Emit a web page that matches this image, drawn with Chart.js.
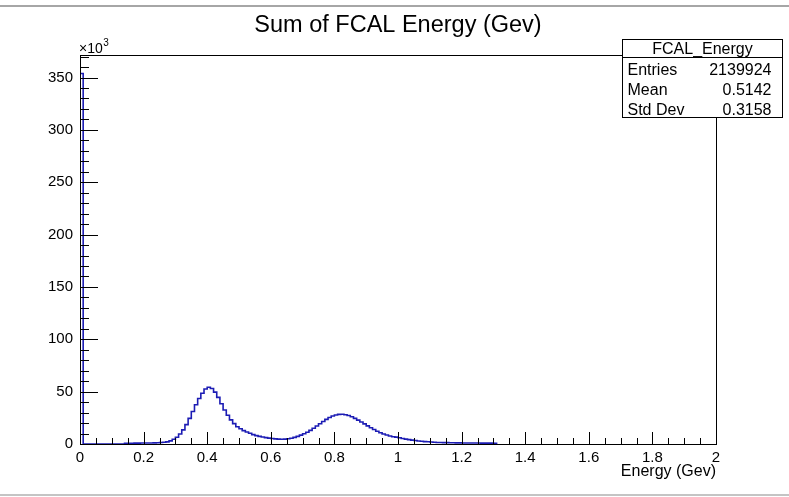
<!DOCTYPE html>
<html>
<head>
<meta charset="utf-8">
<title>Sum of FCAL Energy</title>
<script src="https://cdn.jsdelivr.net/npm/chart.js@4.4.1/dist/chart.umd.min.js"></script>
<style>
  html, body { margin: 0; padding: 0; background: #fff; }
  #wrap { width: 789px; height: 497px; }
</style>
</head>
<body>
<div id="wrap"><canvas id="fcal" width="789" height="497"></canvas></div>
<script>
// FCAL_Energy histogram, 0.01 GeV bins starting at 0
const binLow = 0;
const binWidth = 0.01;
const counts = [
  353800,
  0, 0, 0, 0, 0, 0, 0, 0, 0, 0, 0, 0, 0,
  600, 700, 700, 800, 800, 900, 900, 1000, 1000, 1100, 1200, 1400, 1600,
  2000, 3000, 4500, 6500, 9500, 13500, 18500, 24500, 31000, 37500,
  43500, 48500, 52500, 54200, 53000, 49500, 44500, 38500, 32500, 27500,
  23000, 19500, 16500, 14500, 12800, 11500, 10200, 9000, 8000,
  7300, 6700, 6100, 5600, 5200, 4900, 4700, 4600, 4700, 5000,
  5500, 6300, 7300, 8500, 9800, 11200, 13000, 15000, 17200, 19400,
  21500, 23500, 25300, 26700, 27700, 28300, 28400, 28000, 27200, 26000,
  24500, 22800, 21000, 19200, 17300, 15500, 13800, 12200, 10800, 9600,
  8600, 7700, 6900,
  6600, 6000, 5300, 4700, 4200, 3700, 3300, 2900, 2600, 2300, 2100, 1900, 1700,
  1500, 1400, 1300, 1300, 1200, 1200, 1100, 1100, 1000, 1000,
  1000, 900, 900, 900, 800, 800, 800, 800, 700
];

const xTickValues = [0, 0.2, 0.4, 0.6, 0.8, 1, 1.2, 1.4, 1.6, 1.8, 2];
const xTickLabels = ["0", "0.2", "0.4", "0.6", "0.8", "1", "1.2", "1.4", "1.6", "1.8", "2"];
const yTickValues = [0, 50000, 100000, 150000, 200000, 250000, 300000, 350000];
const yTickLabels = ["0", "50", "100", "150", "200", "250", "300", "350"];
const yMax = 371500;

const histTitle = "Sum of FCAL Energy (Gev)";
const xTitle = "Energy (Gev)";
const statsName = "FCAL_Energy";
const statsKeys = ["Entries", "Mean", "Std Dev"];
const statsVals = ["2139924", "0.5142", "0.3158"];

const FONT = '"Liberation Sans", Arial, Helvetica, sans-serif';

// step outline: one point per bin low edge, closed at the last upper edge
const points = counts.map((c, i) => ({ x: binLow + i * binWidth, y: c }));
points.push({ x: binLow + counts.length * binWidth, y: 0 });

const rootLook = {
  id: "rootLook",
  beforeDraw(chart) {
    const c = chart.ctx;
    c.save();
    c.fillStyle = "#fff";
    c.fillRect(0, 0, chart.width, chart.height);
    c.fillStyle = "#a6a6a6";
    c.fillRect(0, 5, chart.width, 2);
    c.fillStyle = "#c4c4c4";
    c.fillRect(0, 494, chart.width, 2);
    c.restore();
  },
  afterDatasetsDraw(chart) {
    const { ctx: c, chartArea: a, scales: { x, y } } = chart;
    const L = Math.round(a.left), T = Math.round(a.top);
    const R = Math.round(a.right), B = Math.round(a.bottom);
    c.save();
    c.strokeStyle = "#000";
    c.lineWidth = 1;
    c.strokeRect(L + 0.5, T + 0.5, R - L, B - T);

    c.beginPath();
    // y ticks: major every 50k, minor every 10k
    for (let v = 0; v <= yMax; v += 10000) {
      const py = Math.round(y.getPixelForValue(v)) + 0.5;
      const len = v % 50000 === 0 ? 18 : 9;
      c.moveTo(L, py); c.lineTo(L + len, py);
    }
    // x ticks: major every 0.2, minor every 0.05
    for (let k = 0; k <= 40; k++) {
      const px = Math.round(x.getPixelForValue(k * 0.05)) + 0.5;
      const len = k % 4 === 0 ? 12 : 6;
      c.moveTo(px, B); c.lineTo(px, B - len);
    }
    c.stroke();

    c.fillStyle = "#000";
    // title
    c.font = "23.5px " + FONT;
    c.textAlign = "center";
    c.textBaseline = "alphabetic";
    c.fillText(histTitle, 398, 32);

    // exponent marker
    c.textAlign = "left";
    c.font = "14px " + FONT;
    c.fillText("\u00d710", 79, 53);
    const w = c.measureText("\u00d710").width;
    c.font = "10px " + FONT;
    c.fillText("3", 79 + w + 0.5, 46);

    // x axis title
    c.font = "16px " + FONT;
    c.textAlign = "right";
    c.fillText(xTitle, 716, 476);

    // stats box
    const bx = 622.5, by = 39.5, bw = 160, bh = 78, hh = 18;
    c.fillStyle = "#fff";
    c.fillRect(bx, by, bw, bh);
    c.strokeRect(bx, by, bw, bh);
    c.beginPath();
    c.moveTo(bx, by + hh); c.lineTo(bx + bw, by + hh);
    c.stroke();
    c.fillStyle = "#000";
    c.font = "16px " + FONT;
    c.textAlign = "center";
    c.fillText(statsName, bx + bw / 2, by + 14);
    statsKeys.forEach((k, i) => {
      const base = by + hh + 17 + i * 20;
      c.textAlign = "left";
      c.fillText(k, bx + 5, base);
      c.textAlign = "right";
      c.fillText(statsVals[i], bx + bw - 11, base);
    });
    c.restore();
  }
};

new Chart(document.getElementById("fcal"), {
  type: "line",
  data: {
    datasets: [{
      data: points,
      // hold each bin's value until the next edge
      stepped: "before",
      borderColor: "#1c1cb4",
      borderWidth: 1.6,
      pointRadius: 0,
      fill: false
    }]
  },
  options: {
    responsive: false,
    animation: false,
    devicePixelRatio: 1,
    layout: { padding: { left: 0, top: 55, right: 73, bottom: 0 } },
    plugins: { legend: { display: false }, tooltip: { enabled: false }, title: { display: false } },
    scales: {
      x: {
        type: "linear",
        min: 0,
        max: 2,
        grid: { display: false, drawTicks: false },
        border: { display: false },
        afterBuildTicks: s => { s.ticks = xTickValues.map(v => ({ value: v })); },
        afterFit: s => { s.height = 53; },
        ticks: {
          autoSkip: false,
          maxRotation: 0,
          padding: 5,
          color: "#000",
          font: { family: FONT, size: 15 },
          callback: (v, i) => xTickLabels[i]
        }
      },
      y: {
        type: "linear",
        min: 0,
        max: yMax,
        grid: { display: false, drawTicks: false },
        border: { display: false },
        afterBuildTicks: s => { s.ticks = yTickValues.map(v => ({ value: v })); },
        afterFit: s => { s.width = 80; },
        ticks: {
          autoSkip: false,
          padding: 7,
          color: "#000",
          font: { family: FONT, size: 15 },
          callback: (v, i) => yTickLabels[i]
        }
      }
    }
  },
  plugins: [rootLook]
});
</script>
</body>
</html>
